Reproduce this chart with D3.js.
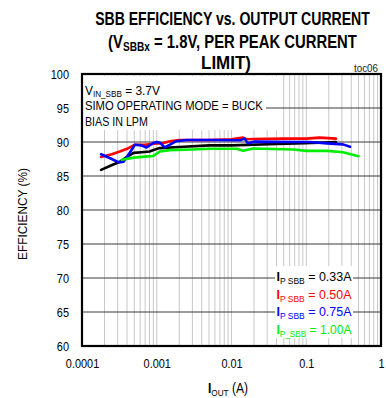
<!DOCTYPE html>
<html><head><meta charset="utf-8">
<script src="https://cdn.jsdelivr.net/npm/d3@7"></script>
<style>html,body{margin:0;padding:0;background:#fff;}svg{display:block;}</style>
</head><body>
<svg id="c" width="386" height="398"></svg>
<script>
// ---- data ----
const seriesNames = ["0.33A", "0.50A", "0.75A", "1.00A"];
const seriesColors = ["#000000", "#ff0000", "#0000ff", "#00ee00"];
const yTicks = [60, 65, 70, 75, 80, 85, 90, 95, 100];
const xTicks = [0.0001, 0.001, 0.01, 0.1, 1];
const xTickLabels = ["0.0001", "0.001", "0.01", "0.1", "1"];
const s033 = [[0.00018,85.9],[0.00024,86.5],[0.00032,87.1],[0.0004,87.8],[0.00049,88.4],[0.00063,88.5],[0.0008,88.6],[0.00095,88.9],[0.0011,89.1],[0.0023,89.3],[0.0051,89.5],[0.01,89.5],[0.04,89.7],[0.074,89.8],[0.15,89.9],[0.25,90.0]];
const s050 = [[0.00018,87.8],[0.00025,88.2],[0.00032,88.6],[0.0004,89.0],[0.00051,89.6],[0.0007,89.6],[0.001,89.8],[0.0012,89.8],[0.0015,90.1],[0.002,90.3],[0.005,90.3],[0.01,90.4],[0.0142,90.65],[0.016,90.4],[0.02,90.45],[0.05,90.5],[0.1,90.5],[0.15,90.65],[0.25,90.5]];
const s075 = [[0.00018,88.2],[0.00025,87.5],[0.00031,87.0],[0.00036,87.1],[0.00044,88.5],[0.00051,89.6],[0.00062,89.5],[0.00073,89.2],[0.00088,89.8],[0.001,90.0],[0.0011,89.9],[0.00128,89.2],[0.0015,89.6],[0.0018,90.1],[0.0025,90.3],[0.0051,90.3],[0.013,90.25],[0.015,90.5],[0.0165,89.8],[0.02,90.05],[0.07,90.0],[0.11,90.0],[0.19,89.8],[0.31,89.65],[0.385,89.3]];
const s100 = [[0.00034,87.4],[0.0005,87.7],[0.0007,87.85],[0.0009,87.95],[0.0011,88.6],[0.0015,88.8],[0.003,88.9],[0.0051,89.0],[0.0117,89.0],[0.0143,88.7],[0.0195,89.05],[0.067,88.9],[0.1,88.7],[0.19,88.7],[0.31,88.5],[0.5,87.9]];
const allSeries = [s033, s050, s075, s100];

// ---- layout ----
const FONT = "'Liberation Sans', Arial, sans-serif";
const L = 82, R = 381, T = 74, B = 346;
const svg = d3.select("#c");
const x = d3.scaleLog().domain([0.0001, 1]).range([L, R]);
const y = d3.scaleLinear().domain([60, 100]).range([B, T]);

// helper: text made of parts, scaled horizontally to a target width
function label(x0, y0, anchor, size, weight, parts, fill, targetW, rotate, subShift) {
  const sh = subShift || 3;
  const g = svg.append("g");
  const t = g.append("text").attr("text-anchor", anchor)
    .attr("font-family", FONT).attr("font-size", size).attr("font-weight", weight).attr("fill", fill);
  let shift = 0;
  parts.forEach(p => {
    const ts = t.append("tspan").text(p.t);
    if (p.sub) { ts.attr("font-size", size * 0.68).attr("dy", sh - shift); shift = sh; }
    else if (shift) { ts.attr("dy", -shift); shift = 0; }
    if (p.w) ts.attr("font-weight", p.w);
  });
  const w = t.node().getComputedTextLength();
  const sx = targetW ? targetW / w : 0.85;
  g.attr("transform", `translate(${x0},${y0})` + (rotate ? ` rotate(${rotate})` : "") + ` scale(${sx},1)`);
  return g;
}

// vertical gridlines
const vGrid = [];
[0.0001, 0.001, 0.01, 0.1].forEach(d => { for (let m = 1; m <= 9; m++) { const v = d * m; if (v > 0.0001) vGrid.push(v); } });
svg.append("g").selectAll("line").data(vGrid).join("line")
  .attr("x1", d => x(d)).attr("x2", d => x(d)).attr("y1", T).attr("y2", B)
  .attr("stroke", "#c8c8c8").attr("stroke-width", 1);

// white boxes (annotation + legend)
svg.append("rect").attr("x", L + 1).attr("y", T + 2).attr("width", 197).attr("height", 54).attr("fill", "#fff");
svg.append("rect").attr("x", 274).attr("y", 266).attr("width", 80).attr("height", 72).attr("fill", "#fff");

// horizontal gridlines
svg.append("g").selectAll("line").data(yTicks.filter(v => v > 60 && v < 100)).join("line")
  .attr("x1", L).attr("x2", R).attr("y1", d => y(d)).attr("y2", d => y(d))
  .attr("stroke", "#3a3a3a").attr("stroke-width", 1.2);
// cover parts hidden by text backgrounds
svg.append("rect").attr("x", L + 1).attr("y", 99).attr("width", 183).attr("height", 13).attr("fill", "#fff");
svg.append("rect").attr("x", 275).attr("y", 270).attr("width", 78).attr("height", 66).attr("fill", "#fff");

// curves
const line = d3.line().x(d => x(d[0])).y(d => y(d[1]));
svg.append("g").selectAll("path").data(allSeries).join("path")
  .attr("d", line).attr("fill", "none")
  .attr("stroke", (d, i) => seriesColors[i]).attr("stroke-width", 2.6)
  .attr("stroke-linejoin", "round").attr("stroke-linecap", "round");

// frame
svg.append("rect").attr("x", L).attr("y", T).attr("width", R - L).attr("height", B - T)
  .attr("fill", "none").attr("stroke", "#000").attr("stroke-width", 2.2);

// axes
const yAxis = svg.append("g").attr("transform", `translate(${L},0)`)
  .call(d3.axisLeft(y).tickValues(yTicks).tickSize(0).tickPadding(15.5).tickFormat(d3.format("d")));
yAxis.select(".domain").remove();
yAxis.selectAll("text").attr("font-family", FONT).attr("font-size", 13).attr("fill", "#000")
  .attr("dy", "0.36em").attr("transform", "scale(0.84,1)");

const xAxis = svg.append("g").attr("transform", `translate(0,${B})`)
  .call(d3.axisBottom(x).tickValues(xTicks).tickSize(0).tickPadding(12.5).tickFormat((d, i) => xTickLabels[i]));
xAxis.select(".domain").remove();
xAxis.selectAll("text").attr("font-family", FONT).attr("font-size", 13).attr("fill", "#000")
  .attr("transform", "scale(0.84,1)");

// titles
label(232.5, 25, "middle", 19, "bold", [{t: "SBB EFFICIENCY vs. OUTPUT CURRENT"}], "#000", 275);
label(232.5, 47.5, "middle", 19, "bold", [{t: "(V"}, {t: "SBBx", sub: true}, {t: " = 1.8V, PER PEAK CURRENT"}], "#000", 249);
label(226, 69, "middle", 19, "bold", [{t: "LIMIT)"}], "#000", 50);
label(378, 72, "end", 10, "normal", [{t: "toc06"}], "#222", 24);

// annotation
label(85, 94.5, "start", 13.5, "normal", [{t: "V"}, {t: "IN_SBB", sub: true}, {t: " = 3.7V"}], "#000", 75, 0, 2);
label(85, 110, "start", 13.5, "normal", [{t: "SIMO OPERATING MODE = BUCK"}], "#000", 178);
label(85, 125.5, "start", 13.5, "normal", [{t: "BIAS IN LPM"}], "#000", 63);

// legend
const legSub = ["P SBB", "P SBB", "P SBB", "P_SBB"];
seriesNames.forEach((n, i) => {
  label(276.5, 281 + i * 17.5, "start", 13.5, "normal",
    [{t: "I", w: "bold"}, {t: legSub[i], sub: true}, {t: " = " + n}], seriesColors[i], 75);
});

// axis titles
label(27, 214, "middle", 13.5, "normal", [{t: "EFFICIENCY (%)"}], "#000", 92, -90);
label(228, 393, "middle", 14, "normal", [{t: "I", w: "bold"}, {t: "OUT", sub: true}, {t: " (A)"}], "#000", 40);
</script>
</body></html>
